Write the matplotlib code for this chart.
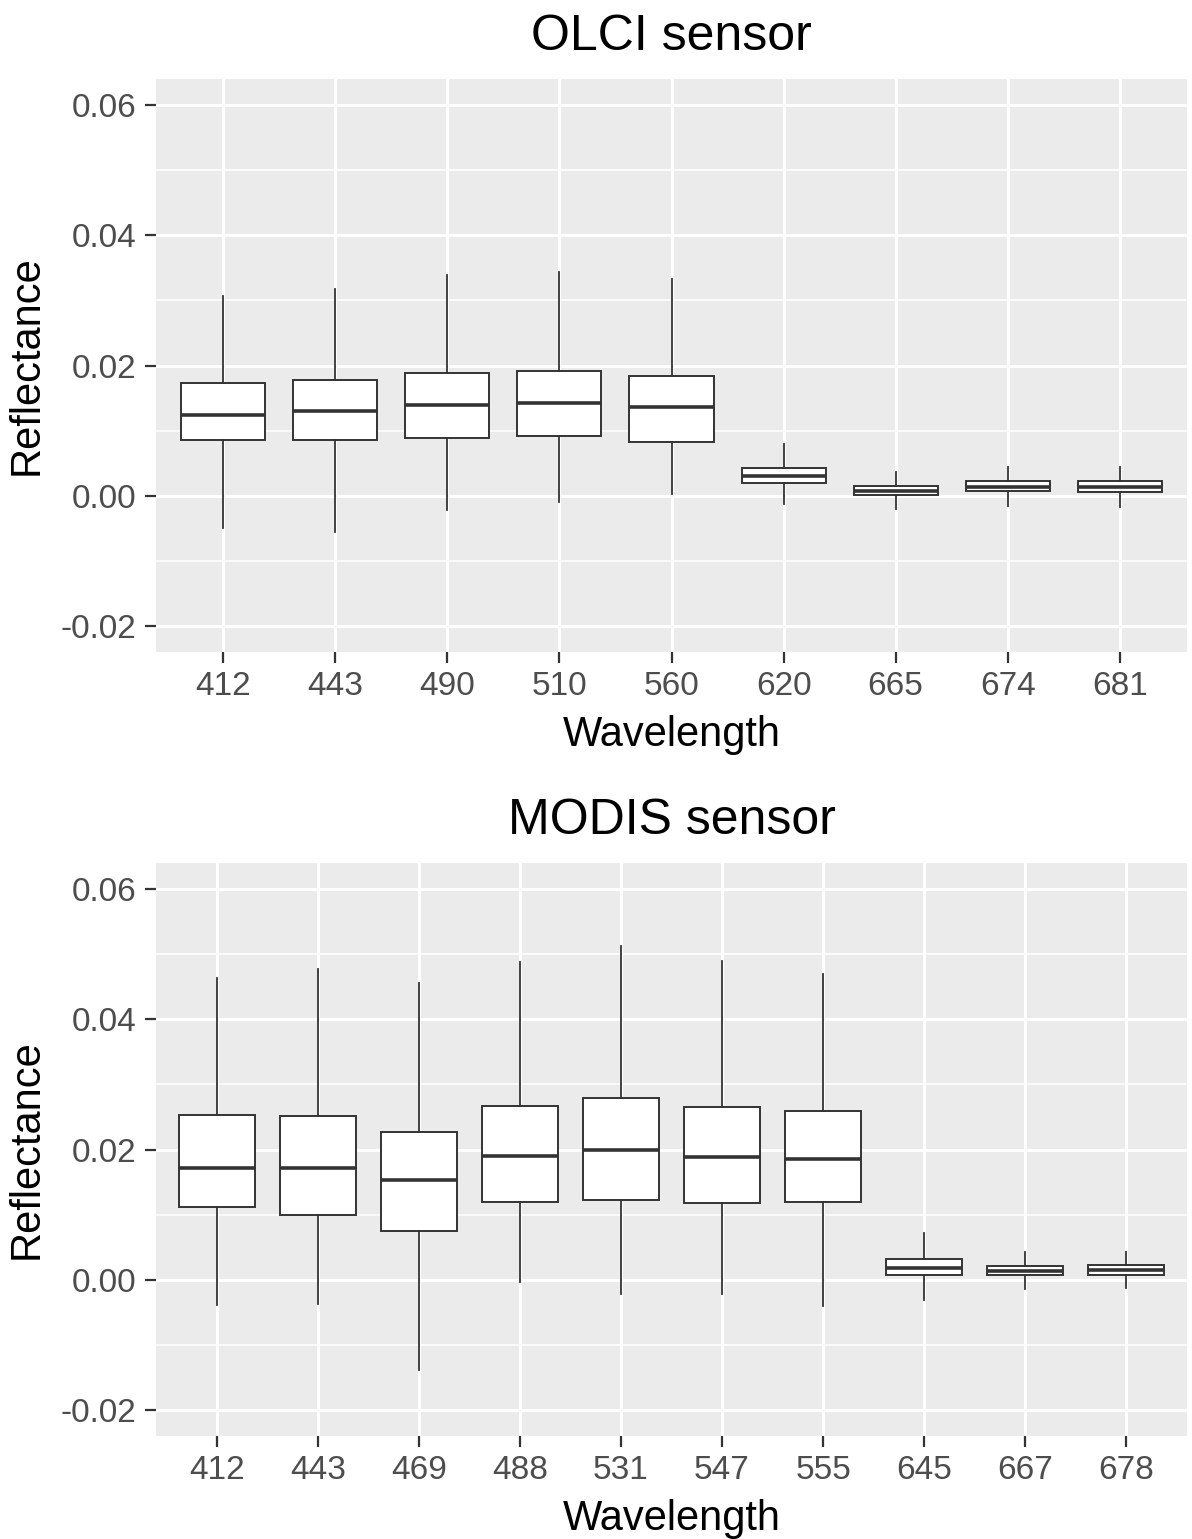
import matplotlib.pyplot as plt

plt.rcParams['font.family'] = ['Liberation Sans', 'DejaVu Sans']

# OLCI sensor boxes
olci_bands = ['412', '443', '490', '510', '560', '620', '665', '674', '681']
olci_whislo = [-0.0050, -0.0055, -0.0022, -0.0009, 0.0002, -0.0013, -0.0020, -0.0016, -0.0017]
olci_q1 = [0.0085, 0.0085, 0.0089, 0.0091, 0.0083, 0.0020, 0.0001, 0.0008, 0.0006]
olci_med = [0.0124, 0.0130, 0.0140, 0.0143, 0.0137, 0.0030, 0.0008, 0.0014, 0.0013]
olci_q3 = [0.0173, 0.0178, 0.0188, 0.0191, 0.0184, 0.0043, 0.0015, 0.0022, 0.0022]
olci_whishi = [0.0306, 0.0318, 0.0339, 0.0343, 0.0333, 0.0079, 0.0036, 0.0044, 0.0044]

# MODIS sensor boxes
modis_bands = ['412', '443', '469', '488', '531', '547', '555', '645', '667', '678']
modis_whislo = [-0.0039, -0.0037, -0.0138, -0.0004, -0.0022, -0.0022, -0.0040, -0.0031, -0.0014, -0.0013]
modis_q1 = [0.0111, 0.0100, 0.0075, 0.0120, 0.0123, 0.0118, 0.0120, 0.0007, 0.0007, 0.0008]
modis_med = [0.0172, 0.0172, 0.0153, 0.0190, 0.0199, 0.0189, 0.0186, 0.0018, 0.0013, 0.0015]
modis_q3 = [0.0253, 0.0251, 0.0227, 0.0267, 0.0279, 0.0266, 0.0259, 0.0032, 0.0021, 0.0022]
modis_whishi = [0.0463, 0.0477, 0.0456, 0.0488, 0.0512, 0.0489, 0.0469, 0.0071, 0.0042, 0.0043]

y_major = [-0.02, 0.00, 0.02, 0.04, 0.06]
y_minor = [-0.01, 0.01, 0.03, 0.05]

W, H = 1192, 1539
fig = plt.figure(figsize=(W / 100, H / 100), dpi=100)

dark = '#333333'
grey = '#4D4D4D'


def panel(rect, bands, lo, q1, med, q3, hi, title):
    ax = fig.add_axes(rect)
    ax.set_facecolor('#EBEBEB')
    stats = []
    for i in range(len(bands)):
        stats.append({'whislo': lo[i], 'q1': q1[i], 'med': med[i],
                      'q3': q3[i], 'whishi': hi[i], 'fliers': []})
    ax.bxp(stats, positions=range(len(bands)), widths=0.75,
           patch_artist=True, showcaps=False, showfliers=False,
           boxprops=dict(facecolor='white', edgecolor=dark, linewidth=1.4),
           medianprops=dict(color=dark, linewidth=2.6, solid_capstyle='butt'),
           whiskerprops=dict(color=dark, linewidth=1.3))
    ax.set_xlim(-0.6, len(bands) - 0.4)
    ax.set_ylim(-0.024, 0.064)
    ax.set_xticks(range(len(bands)))
    ax.set_xticklabels(bands)
    ax.set_yticks(y_major)
    ax.set_yticklabels([f'{v:.2f}' for v in y_major])
    ax.set_yticks(y_minor, minor=True)
    ax.tick_params(axis='y', which='minor', length=0)
    ax.tick_params(which='major', length=8, width=1.6, color=dark,
                   labelsize=24, labelcolor=grey, pad=6)
    ax.grid(which='major', color='white', linewidth=2.2)
    ax.grid(which='minor', axis='y', color='white', linewidth=1.1)
    ax.set_axisbelow(True)
    for s in ax.spines.values():
        s.set_visible(False)
    ax.set_title(title, fontsize=36, pad=21)
    ax.set_xlabel('Wavelength', fontsize=30, labelpad=9)
    ax.set_ylabel('Reflectance', fontsize=30, labelpad=10)
    return ax


left = 156 / W
width = (1187 - 156) / W
panel([left, (H - 652) / H, width, (652 - 79) / H],
      olci_bands, olci_whislo, olci_q1, olci_med, olci_q3, olci_whishi, 'OLCI sensor')
panel([left, (H - 1436) / H, width, (1436 - 863) / H],
      modis_bands, modis_whislo, modis_q1, modis_med, modis_q3, modis_whishi, 'MODIS sensor')

fig.savefig('out.png', dpi=100)
